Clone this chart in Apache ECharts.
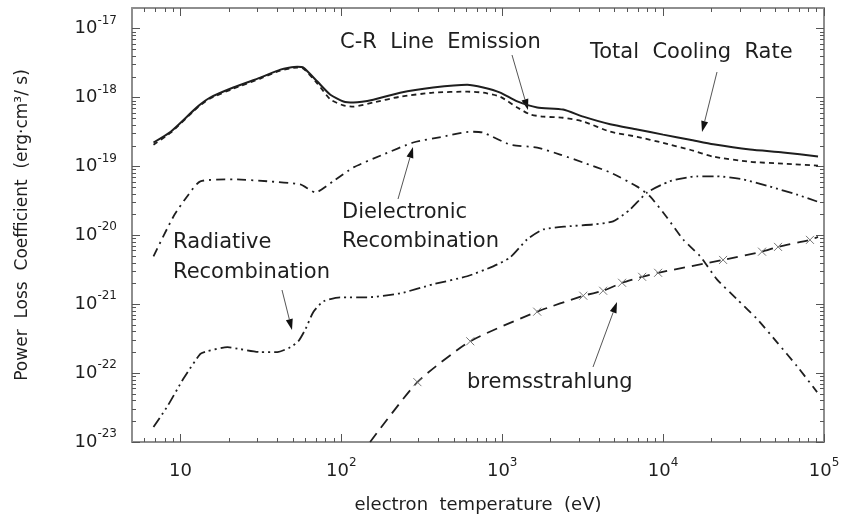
<!DOCTYPE html>
<html>
<head>
<meta charset="utf-8">
<title>Power Loss Coefficient</title>
<script src="https://cdn.jsdelivr.net/npm/echarts@6/dist/echarts.min.js"></script>
<style>
  html, body { margin: 0; padding: 0; background: #fff; }
  #chart { width: 844px; height: 525px; }
</style>
</head>
<body>
<div id="chart"></div>
<script>
// electron temperature (eV) and power loss coefficient (erg cm^3 / s)
var totalT = [6.8, 8.7, 12.8, 15.3, 21.3, 31.4, 41.8, 53.3, 58.1, 71, 85.5, 103, 119, 158, 232, 372, 606, 762, 972, 1240, 1650, 2390, 3190, 4690, 6900, 10000, 14700, 20500, 34700, 55600, 91800];
var totalP = [2.23e-19, 3.2e-19, 7.4e-19, 1.0e-18, 1.4e-18, 1.95e-18, 2.55e-18, 2.8e-18, 2.72e-18, 1.71e-18, 1.1e-18, 8.8e-19, 8.5e-19, 9.3e-19, 1.18e-18, 1.4e-18, 1.54e-18, 1.4e-18, 1.18e-18, 8.8e-19, 7.2e-19, 6.7e-19, 5.3e-19, 4.1e-19, 3.45e-19, 2.9e-19, 2.45e-19, 2.1e-19, 1.76e-19, 1.6e-19, 1.4e-19];

var lineT = [6.8, 8.7, 12.8, 15.3, 21.3, 31.4, 41.8, 53.3, 58.1, 71, 85.5, 103, 119, 158, 232, 372, 606, 762, 972, 1240, 1490, 1800, 2390, 3190, 4690, 6900, 10000, 14700, 20500, 34700, 55600, 91800];
var lineP = [2.07e-19, 3.1e-19, 7.2e-19, 9.7e-19, 1.35e-18, 1.89e-18, 2.47e-18, 2.73e-18, 2.64e-18, 1.6e-18, 9.4e-19, 7.7e-19, 7.4e-19, 8.5e-19, 1.03e-18, 1.18e-18, 1.22e-18, 1.18e-18, 1.03e-18, 7.2e-19, 5.7e-19, 5.3e-19, 5.1e-19, 4.5e-19, 3.2e-19, 2.7e-19, 2.2e-19, 1.75e-19, 1.39e-19, 1.17e-19, 1.1e-19, 1.03e-19];

var dielT = [6.8, 9.05, 11.0, 13.3, 21.3, 34.7, 55.6, 69, 89, 119, 182, 280, 430, 633, 762, 1122, 1650, 2290, 3190, 4690, 6900, 8300, 10600, 13300, 17000, 21600, 28800, 38400, 51100, 68000, 90600];
var dielP = [4.97e-21, 1.88e-20, 3.67e-20, 6.1e-20, 6.5e-20, 6.1e-20, 5.5e-20, 4.2e-20, 6.1e-20, 9.7e-20, 1.49e-19, 2.23e-19, 2.72e-19, 3.2e-19, 3.1e-19, 2.08e-19, 1.88e-19, 1.49e-19, 1.14e-19, 8.2e-20, 5.1e-20, 3.67e-20, 1.8e-20, 8.75e-21, 4.97e-21, 2.3e-21, 1.18e-21, 6.1e-22, 2.8e-22, 1.26e-22, 5.3e-23];

var radT = [6.8, 8.3, 10.4, 13.3, 14.7, 19.6, 23.6, 31.4, 40, 48.2, 54, 59.7, 67, 77.3, 98.6, 145, 232, 372, 606, 879, 1122, 1430, 1800, 2540, 3670, 4890, 6240, 7960, 11000, 16200, 21600, 31400, 46200, 68000, 90600];
var radP = [1.65e-23, 3.3e-23, 8.2e-23, 1.9e-22, 2.08e-22, 2.38e-22, 2.23e-22, 2.02e-22, 2.02e-22, 2.38e-22, 2.9e-22, 4.3e-22, 7.7e-22, 1.1e-21, 1.26e-21, 1.26e-21, 1.44e-21, 1.95e-21, 2.55e-21, 3.55e-21, 4.8e-21, 8.75e-21, 1.22e-20, 1.35e-20, 1.44e-20, 1.6e-20, 2.38e-20, 4.2e-20, 6.1e-20, 7.2e-20, 7.2e-20, 6.5e-20, 5.1e-20, 3.9e-20, 3.1e-20];

var bremT = [151, 297, 633, 1650, 3190, 4240, 5560, 7410, 9310, 23600, 41200, 51800, 81800, 91800];
var bremP = [1.0e-23, 7.4e-23, 2.9e-22, 7.8e-22, 1.33e-21, 1.57e-21, 2.05e-21, 2.5e-21, 2.86e-21, 4.4e-21, 5.8e-21, 6.8e-21, 8.6e-21, 9.5e-21];

// tick labels (powers of ten) and minor tick multipliers
var xDecades = [1, 2, 3, 4, 5];
var yDecades = [-23, -22, -21, -20, -19, -18, -17];
var minorSteps = [2, 3, 4, 5, 6, 7, 8, 9];

var xMin = Math.log10(5), xMax = 5;
var yMin = -23, yMax = Math.log10(2e-17);

function pairs(T, P) {
  return T.map(function (t, i) { return [Math.log10(t), Math.log10(P[i])]; });
}
function minorList(lo, hi) {
  var out = [];
  for (var e = Math.floor(lo) - 1; e <= Math.ceil(hi); e++) {
    minorSteps.forEach(function (k) {
      var v = e + Math.log10(k);
      if (v > lo && v < hi) out.push(v);
    });
  }
  return out;
}

var font = '"DejaVu Sans", "Liberation Sans", Arial, sans-serif';
var ink = '#1e1e1e';
var frame = '#8e8e8e';

var rich = {
  b: { fontSize: 18, fontFamily: font, color: ink, lineHeight: 28, verticalAlign: 'middle' },
  s: { fontSize: 12, fontFamily: font, color: ink, lineHeight: 12, verticalAlign: 'top' }
};

function axis(kind, pos, major, showLine) {
  var lo = kind === 'x' ? xMin : yMin, hi = kind === 'x' ? xMax : yMax;
  var decades = kind === 'x' ? xDecades : yDecades;
  var ticks = major ? decades : minorList(lo, hi);
  var a = {
    type: 'value', position: pos, min: lo, max: hi,
    splitLine: { show: false },
    axisLine: { show: showLine, onZero: false, lineStyle: { color: frame, width: 2 } },
    axisTick: { show: true, inside: true, length: major ? 8 : 4, customValues: ticks, lineStyle: { color: '#555', width: 1 } },
    axisLabel: { show: false }
  };
  if (major && (pos === 'bottom' || pos === 'left')) {
    a.axisLabel = {
      show: true, customValues: decades, margin: 15, rich: rich,
      formatter: function (v) {
        var e = Math.round(v);
        return e === 1 ? '{b|10}' : '{b|10}{s|' + e + '}';
      }
    };
  }
  return a;
}

var xAxes = [axis('x', 'bottom', true, true), axis('x', 'bottom', false, false), axis('x', 'top', true, true), axis('x', 'top', false, false)];
var yAxes = [axis('y', 'left', true, true), axis('y', 'left', false, false), axis('y', 'right', true, true), axis('y', 'right', false, false)];

xAxes[0].name = 'electron  temperature  (eV)';
xAxes[0].nameLocation = 'middle';
xAxes[0].nameGap = 54;
xAxes[0].nameTextStyle = { fontSize: 18, fontFamily: font, color: ink };
yAxes[0].name = 'Power  Loss  Coefficient  (erg\u00b7cm\u00b3/ s)';
yAxes[0].nameLocation = 'middle';
yAxes[0].nameGap = 101;
yAxes[0].nameTextStyle = { fontSize: 17, fontFamily: font, color: ink };

function curve(name, T, P, width, dash) {
  return {
    name: name, type: 'line', data: pairs(T, P), xAxisIndex: 0, yAxisIndex: 0,
    showSymbol: false, symbol: 'none', smooth: 0.2, silent: true,
    lineStyle: { color: ink, width: width, type: dash }
  };
}

var cross = 'path://M0,0L10,10M0,10L10,0';
var brem = curve('bremsstrahlung', bremT, bremP, 1.8, [11, 7]);
brem.showSymbol = true;
brem.symbol = function (v, p) { return (p.dataIndex === 0 || p.dataIndex === bremT.length - 1) ? 'none' : cross; };
brem.symbolSize = 8;
brem.itemStyle = { color: '#777', borderColor: '#777', borderWidth: 1 };

// annotation arrows
function arrow(x1, y1, x2, y2) {
  var dx = x2 - x1, dy = y2 - y1, L = Math.sqrt(dx * dx + dy * dy);
  var ux = dx / L, uy = dy / L, hl = 11, hw = 3.5;
  var bx = x2 - ux * hl, by = y2 - uy * hl;
  return [
    { type: 'line', silent: true, shape: { x1: x1, y1: y1, x2: bx, y2: by }, style: { stroke: '#555', lineWidth: 1 } },
    { type: 'polygon', silent: true, shape: { points: [[x2, y2], [bx - uy * hw, by + ux * hw], [bx + uy * hw, by - ux * hw]] }, style: { fill: '#111' } }
  ];
}
function label(text, x, y) {
  return { type: 'text', silent: true, x: x, y: y, style: { text: text, fontSize: 21, fontFamily: font, fill: ink, verticalAlign: 'middle' } };
}

var graphics = [
  label('C-R  Line  Emission', 340, 43),
  label('Total  Cooling  Rate', 590, 53),
  label('Dielectronic', 342, 213),
  label('Recombination', 342, 242),
  label('Radiative', 173, 243),
  label('Recombination', 173, 273),
  label('bremsstrahlung', 467, 383)
].concat(arrow(512, 55, 528, 110), arrow(717, 72, 702, 132), arrow(398, 199, 413, 147),
         arrow(282, 290, 292, 330), arrow(593, 367, 617, 302));

var chart = echarts.init(document.getElementById('chart'));
chart.setOption({
  animation: false,
  backgroundColor: '#fff',
  grid: { left: 132, right: 20, top: 8, bottom: 83, containLabel: false },
  xAxis: xAxes,
  yAxis: yAxes,
  series: [
    curve('Total Cooling Rate', totalT, totalP, 2, 'solid'),
    curve('C-R Line Emission', lineT, lineP, 1.8, [5, 4]),
    curve('Dielectronic Recombination', dielT, dielP, 1.8, [9, 5, 2, 5]),
    curve('Radiative Recombination', radT, radP, 1.8, [11, 4, 2, 4, 2, 4]),
    brem
  ],
  graphic: graphics
});
</script>
</body>
</html>
